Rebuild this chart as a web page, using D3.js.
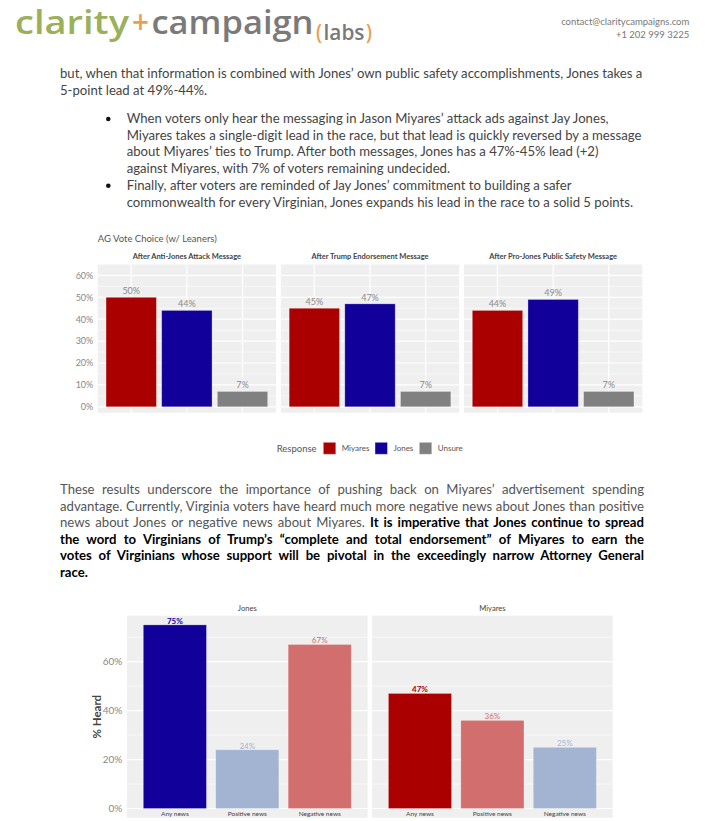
<!DOCTYPE html>
<html><head><meta charset="utf-8">
<script src="https://cdn.jsdelivr.net/npm/d3@7"></script>
<style>body{margin:0;background:#fff;} svg{display:block;font-family:Lato,"Noto Sans",sans-serif;}</style>
</head><body>
<script>
// ---------- data ----------
const messages = ["After Anti-Jones Attack Message", "After Trump Endorsement Message", "After Pro-Jones Public Safety Message"];
const responses = ["Miyares", "Jones", "Unsure"];
const miyaresVote = [50, 45, 44];
const jonesVote = [44, 47, 49];
const unsureVote = [7, 7, 7];
const voteTicks = [0, 10, 20, 30, 40, 50, 60];

const newsCandidates = ["Jones", "Miyares"];
const newsTypes = ["Any news", "Positive news", "Negative news"];
const jonesHeard = [75, 24, 67];
const miyaresHeard = [47, 36, 25];
const heardTicks = [0, 20, 40, 60];

const para1 = ["but, when that information is combined with Jones’ own public safety accomplishments, Jones takes a",
  "5-point lead at 49%-44%."];
const bullets = [
  ["When voters only hear the messaging in Jason Miyares’ attack ads against Jay Jones,",
   "Miyares takes a single-digit lead in the race, but that lead is quickly reversed by a message",
   "about Miyares’ ties to Trump. After both messages, Jones has a 47%-45% lead (+2)",
   "against Miyares, with 7% of voters remaining undecided."],
  ["Finally, after voters are reminded of Jay Jones’ commitment to building a safer",
   "commonwealth for every Virginian, Jones expands his lead in the race to a solid 5 points."]];
const para3 = [
  [["These results underscore the importance of pushing back on Miyares’ advertisement spending", false]],
  [["advantage. Currently, Virginia voters have heard much more negative news about Jones than positive", false]],
  [["news about Jones or negative news about Miyares. ", false], ["It is imperative that Jones continue to spread", true]],
  [["the word to Virginians of Trump’s “complete and total endorsement” of Miyares to earn the", true]],
  [["votes of Virginians whose support will be pivotal in the exceedingly narrow Attorney General", true]],
  [["race.", true]]];

const voteColors = {Miyares: "#aa0000", Jones: "#11009a", Unsure: "#808080"};
const heardColors = {
  Jones: ["#11009a", "#a2b4d1", "#d26e6d"],
  Miyares: ["#aa0000", "#d26e6d", "#a2b4d1"]};

// ---------- page ----------
const svg = d3.select("body").append("svg").attr("width", 705).attr("height", 821);

// logo
const logo = svg.append("g");
function logoPiece(txt, x, y, size, fill, len) {
  logo.append("text").attr("x", x).attr("y", y).attr("font-size", size).attr("fill", fill)
    .attr("font-family", "'Open Sans',Lato,sans-serif").attr("font-weight", 600)
    .attr("textLength", len).attr("lengthAdjust", "spacingAndGlyphs").text(txt);
}
logoPiece("clarity", 15, 33.5, 32, "#9bb05a", 114);
logoPiece("+", 132, 33.5, 32, "#e8a050", 17);
logoPiece("campaign", 151.5, 33.5, 32, "#7a7a7a", 162);
logoPiece("(", 316, 40, 21, "#e8a050", 6);
logoPiece("labs", 323.5, 40, 21, "#7a7a7a", 41);
logoPiece(")", 366, 40, 21, "#e8a050", 6);

svg.append("text").attr("x", 689.3).attr("y", 25).attr("text-anchor", "end").attr("font-size", 9.5)
  .attr("fill", "#777").text("contact@claritycampaigns.com");
svg.append("text").attr("x", 689.3).attr("y", 37.5).attr("text-anchor", "end").attr("font-size", 9.5)
  .attr("fill", "#777").text("+1 202 999 3225");

// body text
const textColor = "#444";
const bodySize = 13.15;
para1.forEach((t, i) => {
  svg.append("text").attr("x", 60).attr("y", 78 + i * 16.7).attr("font-size", bodySize).attr("fill", textColor).text(t);
});
let by = 123;
bullets.forEach(lines => {
  svg.append("circle").attr("cx", 108.3).attr("cy", by - 4).attr("r", 2.3).attr("fill", "#111");
  lines.forEach(t => {
    svg.append("text").attr("x", 126.7).attr("y", by).attr("font-size", bodySize).attr("fill", textColor).text(t);
    by += 16.7;
  });
});
para3.forEach((parts, i) => {
  const t = svg.append("text").attr("x", 60).attr("y", 494 + i * 16.6).attr("font-size", bodySize);
  parts.forEach(([s, b]) => {
    t.append("tspan").attr("font-weight", b ? 700 : 400).attr("fill", b ? "#000" : "#555").text(s);
  });
  if (i < para3.length - 1) {
    const full = parts.map(p => p[0]).join("");
    const spaces = (full.trim().match(/ /g) || []).length;
    const w = t.node().getComputedTextLength();
    const target = 644 - 60;
    if (spaces > 0) t.attr("word-spacing", (target - w) / spaces);
  }
});

// ---------- chart 1: AG vote choice ----------
const c1 = svg.append("g");
c1.append("text").attr("x", 97.7).attr("y", 242.3).attr("font-size", 9.5).attr("fill", "#555")
  .text("AG Vote Choice (w/ Leaners)");
const panelX = d3.scaleBand().domain(messages).range([97.7, 642.3]).paddingInner(0.0262);
const y1 = d3.scaleLinear().domain([-2.7, 65.2]).range([412.7, 264]);
const x1 = d3.scaleBand().domain(responses).range([0, panelX.bandwidth()]).paddingInner(0.095).paddingOuter(0.15);
const voteBy = {Miyares: miyaresVote, Jones: jonesVote, Unsure: unsureVote};

messages.forEach((m, mi) => {
  const g = c1.append("g").attr("transform", `translate(${panelX(m)},0)`);
  g.append("rect").attr("x", 0).attr("y", y1.range()[1]).attr("width", panelX.bandwidth())
    .attr("height", y1.range()[0] - y1.range()[1]).attr("fill", "#efefef");
  const minor = d3.range(5, 66, 10);
  g.selectAll(".mn").data(minor).join("line").attr("x1", 0).attr("x2", panelX.bandwidth())
    .attr("y1", d => y1(d)).attr("y2", d => y1(d)).attr("stroke", "#fff").attr("stroke-width", 0.6);
  g.selectAll(".mj").data(voteTicks).join("line").attr("x1", 0).attr("x2", panelX.bandwidth())
    .attr("y1", d => y1(d)).attr("y2", d => y1(d)).attr("stroke", "#fff").attr("stroke-width", 1.2);
  g.selectAll(".vx").data(responses).join("line")
    .attr("x1", d => x1(d) + x1.bandwidth() / 2).attr("x2", d => x1(d) + x1.bandwidth() / 2)
    .attr("y1", y1.range()[1]).attr("y2", y1.range()[0]).attr("stroke", "#fff").attr("stroke-width", 1.2);
  g.selectAll(".bar").data(responses).join("rect")
    .attr("x", d => x1(d)).attr("width", x1.bandwidth())
    .attr("y", d => y1(voteBy[d][mi])).attr("height", d => y1(0) - y1(voteBy[d][mi]))
    .attr("fill", d => voteColors[d]).attr("stroke", "#ffffff").attr("stroke-opacity", 0.35).attr("stroke-width", 0.8);
  g.selectAll(".lbl").data(responses).join("text")
    .attr("x", d => x1(d) + x1.bandwidth() / 2).attr("y", d => y1(voteBy[d][mi]) - 3)
    .attr("text-anchor", "middle").attr("font-size", 9).attr("fill", "#8a8a8a")
    .text(d => voteBy[d][mi] + "%");
  g.append("text").attr("x", panelX.bandwidth() / 2).attr("y", 259.3).attr("text-anchor", "middle")
    .attr("font-size", 7.5).attr("font-weight", 700).attr("fill", "#444").text(m);
});
const ax1 = c1.append("g").attr("transform", "translate(97.7,0)")
  .call(d3.axisLeft(y1).tickValues(voteTicks).tickFormat(d => d + "%").tickSize(0).tickPadding(4.4));
ax1.select(".domain").remove();
ax1.selectAll("text").attr("font-size", 9).attr("fill", "#888").attr("font-family", "Lato,sans-serif");

// legend
const lg = svg.append("g");
lg.append("text").attr("x", 276.7).attr("y", 451.5).attr("font-size", 9.5).attr("fill", "#555").text("Response");
const legX = {Miyares: 323.3, Jones: 375, Unsure: 419.3};
responses.forEach(r => {
  lg.append("rect").attr("x", legX[r]).attr("y", 442.3).attr("width", 12.5).attr("height", 12)
    .attr("fill", voteColors[r]).attr("stroke", "#fff").attr("stroke-opacity", 0.4);
  lg.append("text").attr("x", legX[r] + 18.4).attr("y", 451).attr("font-size", 8).attr("fill", "#555").text(r);
});

// ---------- chart 2: % heard ----------
const c2 = svg.append("g");
const panel2 = d3.scaleBand().domain(newsCandidates).range([127, 612.7]).paddingInner(0.0184);
const y2 = d3.scaleLinear().domain([-3.75, 78.75]).range([817.7, 615.7]);
const x2 = d3.scaleBand().domain(newsTypes).range([0, panel2.bandwidth()]).paddingInner(0.128).paddingOuter(0.225);
const heardBy = {Jones: jonesHeard, Miyares: miyaresHeard};

newsCandidates.forEach(cand => {
  const g = c2.append("g").attr("transform", `translate(${panel2(cand)},0)`);
  g.append("rect").attr("x", 0).attr("y", y2.range()[1]).attr("width", panel2.bandwidth())
    .attr("height", y2.range()[0] - y2.range()[1]).attr("fill", "#efefef");
  g.selectAll(".mn").data([10, 30, 50, 70]).join("line").attr("x1", 0).attr("x2", panel2.bandwidth())
    .attr("y1", d => y2(d)).attr("y2", d => y2(d)).attr("stroke", "#fff").attr("stroke-width", 0.6);
  g.selectAll(".mj").data(heardTicks).join("line").attr("x1", 0).attr("x2", panel2.bandwidth())
    .attr("y1", d => y2(d)).attr("y2", d => y2(d)).attr("stroke", "#fff").attr("stroke-width", 1.2);
  g.selectAll(".bar").data(newsTypes).join("rect")
    .attr("x", d => x2(d)).attr("width", x2.bandwidth())
    .attr("y", (d, i) => y2(heardBy[cand][i])).attr("height", (d, i) => y2(0) - y2(heardBy[cand][i]))
    .attr("fill", (d, i) => heardColors[cand][i]).attr("stroke", "#fff").attr("stroke-opacity", 0.35).attr("stroke-width", 0.8);
  g.selectAll(".lbl").data(newsTypes).join("text")
    .attr("x", d => x2(d) + x2.bandwidth() / 2).attr("y", (d, i) => y2(heardBy[cand][i]) - 1)
    .attr("text-anchor", "middle").attr("font-size", 8)
    .attr("font-weight", (d, i) => i === 0 ? 700 : 400)
    .attr("fill", (d, i) => heardColors[cand][i])
    .text((d, i) => heardBy[cand][i] + "%");
  g.selectAll(".xl").data(newsTypes).join("text")
    .attr("x", d => x2(d) + x2.bandwidth() / 2).attr("y", 816.2)
    .attr("text-anchor", "middle").attr("font-size", 6.5).attr("fill", "#444").text(d => d);
  g.append("text").attr("x", panel2.bandwidth() / 2).attr("y", 611).attr("text-anchor", "middle")
    .attr("font-size", 7.6).attr("fill", "#444").text(cand);
});
const ax2 = c2.append("g").attr("transform", "translate(127,0)")
  .call(d3.axisLeft(y2).tickValues(heardTicks).tickFormat(d => d + "%").tickSize(0).tickPadding(4.7));
ax2.select(".domain").remove();
ax2.selectAll("text").attr("font-size", 10).attr("fill", "#888").attr("font-family", "Lato,sans-serif");
c2.append("text").attr("transform", "translate(96.7,716.7) rotate(-90)").attr("text-anchor", "middle")
  .attr("dominant-baseline", "central").attr("font-size", 11.5).attr("font-weight", 700).attr("fill", "#444")
  .text("% Heard");
</script>
</body></html>
